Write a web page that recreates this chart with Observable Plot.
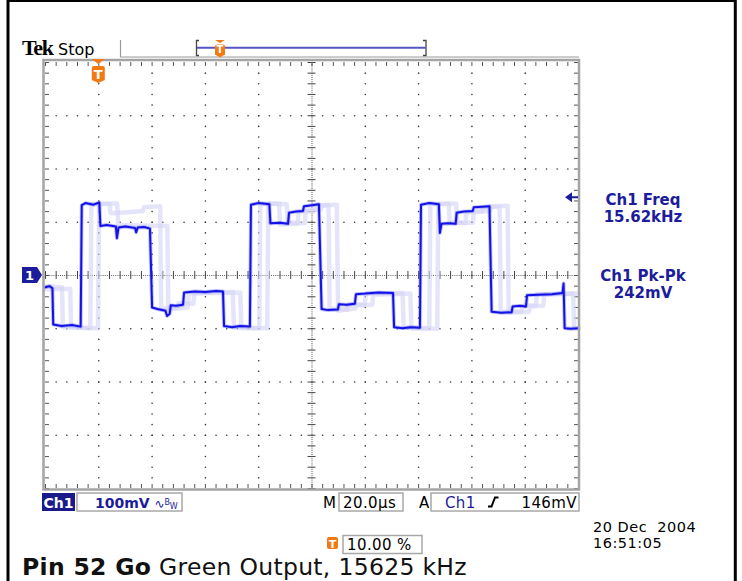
<!DOCTYPE html>
<html><head><meta charset="utf-8">
<script src="https://cdn.jsdelivr.net/npm/d3@7"></script>
<script src="https://cdn.jsdelivr.net/npm/@observablehq/plot@0.6"></script>
<style>body{margin:0;background:#fff}</style>
</head><body><div id="chart"></div>
<script>
// Time in µs (20 µs/div, 10 div), voltage in mV (100 mV/div, 8 div)
const mainTime = [0,1.5,2.6,2.9,6,10,13.2,13.6,15,18,20.2,20.6,23,26.4,26.8,27.4,30,33.6,34.0,34.6,37,39.2,40.0,42,45.0,45.6,46.6,47.0,49,51.6,52.0,56,60,64,66.6,67.0,70,73,76.7,77.1,80,84.0,84.4,88,91.0,91.4,94,96.6,97.0,100,102.6,103.6,106,109.7,110.1,113,116.1,116.5,120,125,130.4,130.8,134,137,140.5,140.9,144,147.6,148.0,148.6,151,153.9,154.3,157,160.3,160.7,164,166.6,167.4,171,174.9,175.3,178,180.3,180.7,185,190,194.0,194.4,194.8,197,200];
const mainMv = [-22,-20,-24,-92,-95,-93,-96,132,136,133,137,93,95,92,70,90,92,89,81,90,91,88,-60,-63,-66,-76,-72,-56,-57,-55,-32,-30,-31,-29,-30,-95,-97,-95,-96,133,136,134,98,99,97,118,120,121,130,132,134,-63,-65,-64,-54,-55,-53,-35,-34,-32,-33,-97,-99,-97,-98,133,136,134,80,97,98,97,118,120,121,128,129,130,-68,-70,-69,-58,-57,-58,-37,-36,-35,-33,-15,-99,-100,-99];

// faint persistence captures
const ghostATime = [0,9.3,9.6,19.7,20.1,26.9,27.3,45.7,46.1,53.4,53.8,73.1,73.5,83.2,83.6,90.5,90.9,97.3,97.7,103.3,103.7,109.3,109.8,116.3,116.7,122.6,123.0,136.9,137.3,147.0,147.4,154.1,154.5,160.4,160.8,166.8,167.2,173.4,173.8,181.4,181.8,186.8,187.2,200];
const ghostAMv = [-26,-25,-97,-99,134,135,95,93,-64,-60,-34,-32,-98,-99,135,134,100,98,122,124,132,133,-66,-62,-56,-55,-36,-34,-99,-100,134,135,99,99,120,121,130,131,-70,-68,-58,-57,-36,-34];
const ghostBTime = [0,6.2,6.5,16.8,17.2,24.0,24.4,31,36.5,36.9,43.0,43.4,49.5,49.9,55.5,55.9,70.3,70.7,80.2,80.6,87.6,88.0,94.6,95.0,100.3,100.7,106.2,106.6,113.2,113.6,119.8,120.2,134.0,134.4,144.0,144.4,151.3,151.7,157.6,158.0,163.8,164.2,170.4,170.8,178.6,179.0,184.0,184.4,198.0,198.4,200];
const ghostBMv = [-20,-22,-97,-99,134,135,117,119,121,128,130,-62,-60,-52,-53,-33,-31,-98,-99,134,135,96,97,120,121,131,132,-62,-64,-55,-54,-34,-33,-98,-99,134,135,100,98,118,120,128,129,-68,-68,-57,-56,-35,-34,-99,-99];

const triggerTime = 20;      // 10.00 %
const triggerLevel = 146;    // mV
const measureLabels = ["Ch1 Freq", "15.62kHz", "Ch1 Pk-Pk", "242mV"];
const dateLabels = ["20 Dec  2004", "16:51:05"];

const toData = (ts, vs) => ts.map((t, i) => ({t, v: vs[i]}));
const main = toData(mainTime, mainMv);
const ghostA = toData(ghostATime, ghostAMv);
const ghostB = toData(ghostBTime, ghostBMv);

const minorT = d3.range(0, 200.001, 4);
const majorT = d3.range(20, 200, 20);
const minorV = d3.range(-400, 400.001, 20);
const majorV = d3.range(-300, 300.001, 100);
const gridDots = [];
for (const t of majorT) if (t !== 100) for (const v of minorV) if (Math.abs(v) < 400) gridDots.push({t, v});
for (const v of majorV) if (v !== 0) for (const t of minorT) if (t > 0 && t < 200) gridDots.push({t, v});
const centerH = d3.range(0, 200.001, 0.8).map(t => ({t, v: 0}));
const centerV = d3.range(-400, 400.001, 4).map(v => ({t: 100, v}));

const svg = Plot.plot({
  width: 742, height: 581,
  marginLeft: 45, marginRight: 164, marginTop: 62, marginBottom: 93,
  x: {domain: [0, 200], axis: null},
  y: {domain: [-400, 400], axis: null},
  style: {background: "#fff", overflow: "visible"},
  marks: [
    Plot.dot(gridDots, {x: "t", y: "v", r: 0.8, fill: "#333", stroke: null}),
    Plot.dot(centerH, {x: "t", y: "v", r: 0.55, fill: "#444", stroke: null}),
    Plot.dot(centerV, {x: "t", y: "v", r: 0.55, fill: "#444", stroke: null}),
    Plot.ruleX(minorT, {x: d => d, y1: () => -7.5, y2: () => 7.5, stroke: "#444", strokeWidth: 1}),
    Plot.ruleY(minorV, {y: d => d, x1: () => 98.5, x2: () => 101.5, stroke: "#444", strokeWidth: 1}),
    Plot.ruleX(minorT, {x: d => d, y1: () => 400, y2: () => 392.5, stroke: "#555", strokeWidth: 1}),
    Plot.ruleX(minorT, {x: d => d, y1: () => -400, y2: () => -392.5, stroke: "#555", strokeWidth: 1}),
    Plot.ruleY(minorV, {y: d => d, x1: () => 0, x2: () => 1.5, stroke: "#555", strokeWidth: 1}),
    Plot.ruleY(minorV, {y: d => d, x1: () => 200, x2: () => 198.5, stroke: "#555", strokeWidth: 1}),
    Plot.line(ghostA, {x: "t", y: "v", stroke: "#d4d4f7", strokeWidth: 4.5, strokeOpacity: 0.6}),
    Plot.line(ghostB, {x: "t", y: "v", stroke: "#d4d4f7", strokeWidth: 4.5, strokeOpacity: 0.6}),
    Plot.line(main, {x: "t", y: "v", stroke: "#5a5af0", strokeWidth: 3.8, strokeOpacity: 0.4}),
    Plot.line(main, {x: "t", y: "v", stroke: "#1212e6", strokeWidth: 2})
  ]
});
document.getElementById("chart").appendChild(svg);

const xs = svg.scale("x"), ys = svg.scale("y");
const X = t => xs.apply(t), Y = v => ys.apply(v);
const g = d3.select(svg).append("g").attr("text-anchor", "start");
const SANS = "DejaVu Sans, sans-serif";
const NAVY = "#1c1c9c";
const ORANGE = "#f27a14";

// graticule frame
g.append("rect").attr("x", 43.5).attr("y", 60).attr("width", 535.5).attr("height", 429.5)
  .attr("fill", "none").attr("stroke", "#a4a4a4").attr("stroke-width", 2.5);
// outer black border
g.append("rect").attr("x", 8).attr("y", 0.5).attr("width", 727.3).attr("height", 600)
  .attr("fill", "none").attr("stroke", "#000").attr("stroke-width", 3);

// header
g.append("text").attr("x", 22).attr("y", 55).attr("font-family", "Liberation Serif, serif")
  .attr("font-weight", "bold").attr("font-size", 22).attr("letter-spacing", -1.3).attr("fill", "#000").text("Tek");
g.append("text").attr("x", 58).attr("y", 55).attr("font-family", SANS).attr("font-size", 16).attr("fill", "#000").text("Stop");
g.append("path").attr("d", "M120.5,40V57H579").attr("fill", "none").attr("stroke", "#999").attr("stroke-width", 1.2);
g.append("path").attr("d", "M199,40.5H196.5V55.5H199M423,40.5H426V55.5H423").attr("fill", "none").attr("stroke", "#444").attr("stroke-width", 1.3);
g.append("line").attr("x1", 197).attr("x2", 425.5).attr("y1", 47.8).attr("y2", 47.8).attr("stroke", "#5454c4").attr("stroke-width", 2);

function trigMark(cx, top, w, triH, gap, bodyH, fs) {
  const h = w / 2;
  g.append("path").attr("d", `M${cx - h},${top}H${cx + h}L${cx},${top + triH}Z`).attr("fill", ORANGE);
  const b = top + triH + gap;
  g.append("path").attr("d",
    `M${cx - h},${b + 2}Q${cx - h},${b} ${cx - h + 2},${b}H${cx + h - 2}Q${cx + h},${b} ${cx + h},${b + 2}V${b + bodyH}L${cx},${b + bodyH + 3}L${cx - h},${b + bodyH}Z`)
    .attr("fill", ORANGE);
  g.append("text").attr("x", cx).attr("y", b + bodyH - 1.5).attr("text-anchor", "middle")
    .attr("font-family", SANS).attr("font-weight", "bold").attr("font-size", fs).attr("fill", "#fff").text("T");
}
trigMark(X(triggerTime), 59, 13, 5, 2, 14, 13);
trigMark(220, 40, 10, 3, 1.5, 10, 10);

// channel 1 ground marker
const y0 = Y(0);
g.append("path").attr("d", `M22,${y0 - 8}H37L42,${y0}L37,${y0 + 8}H22Z`).attr("fill", NAVY);
g.append("text").attr("x", 29.5).attr("y", y0 + 5).attr("text-anchor", "middle").attr("font-family", SANS)
  .attr("font-weight", "bold").attr("font-size", 13).attr("fill", "#fff").text("1");

// trigger level arrow on the right
const yt = Y(triggerLevel);
g.append("path").attr("d", `M565,${yt}L572,${yt - 5}V${yt + 5}Z`).attr("fill", NAVY);
g.append("line").attr("x1", 571).attr("x2", 578).attr("y1", yt).attr("y2", yt).attr("stroke", NAVY).attr("stroke-width", 2);

// measurements
[[205, 0], [222, 1], [281, 2], [298, 3]].forEach(([y, i]) => {
  g.append("text").attr("x", 643).attr("y", y).attr("text-anchor", "middle").attr("font-family", SANS)
    .attr("font-weight", "bold").attr("font-size", 15).attr("fill", NAVY).text(measureLabels[i]);
});

// bottom status line
g.append("rect").attr("x", 42).attr("y", 493).attr("width", 33).attr("height", 18).attr("fill", "#1a1a8a");
g.append("text").attr("x", 58.5).attr("y", 507.5).attr("text-anchor", "middle").attr("font-family", SANS)
  .attr("font-weight", "bold").attr("font-size", 14).attr("fill", "#fff").text("Ch1");
const box = (x, y, w, h) => g.append("rect").attr("x", x).attr("y", y).attr("width", w).attr("height", h)
  .attr("fill", "none").attr("stroke", "#a8a8a8").attr("stroke-width", 1.5);
box(77, 493, 105, 18);
const t100 = g.append("text").attr("x", 95).attr("y", 507.5).attr("font-family", SANS).attr("font-weight", "bold")
  .attr("font-size", 14).attr("fill", NAVY);
t100.append("tspan").text("100mV ");
t100.append("tspan").attr("font-size", 12).attr("font-weight", "normal").text("∿");
t100.append("tspan").attr("font-size", 8).attr("dy", -3).attr("font-weight", "normal").text("B");
t100.append("tspan").attr("font-size", 8).attr("dy", 4).attr("font-weight", "normal").text("W");

g.append("text").attr("x", 323).attr("y", 507.5).attr("font-family", SANS).attr("font-size", 15).attr("fill", "#000").text("M");
box(339, 493, 64, 18);
g.append("text").attr("x", 343).attr("y", 507.5).attr("font-family", SANS).attr("font-size", 15)
  .attr("letter-spacing", 0.4).attr("fill", "#000").text("20.0µs");
g.append("text").attr("x", 419).attr("y", 507.5).attr("font-family", SANS).attr("font-size", 15).attr("fill", "#000").text("A");
box(431, 493, 148, 18);
g.append("text").attr("x", 445).attr("y", 507.5).attr("font-family", SANS).attr("font-size", 15)
  .attr("letter-spacing", 0.4).attr("fill", NAVY).text("Ch1");
g.append("path").attr("d", "M488,506.5H491.5L495,497.5H498.5").attr("fill", "none").attr("stroke", "#000").attr("stroke-width", 2);
g.append("text").attr("x", 577).attr("y", 507.5).attr("text-anchor", "end").attr("font-family", SANS).attr("font-size", 15)
  .attr("letter-spacing", 0.4).attr("fill", "#000").text("146mV");

// trigger position
g.append("rect").attr("x", 327).attr("y", 537).attr("width", 11).attr("height", 12).attr("rx", 2).attr("fill", ORANGE);
g.append("text").attr("x", 332.5).attr("y", 547.5).attr("text-anchor", "middle").attr("font-family", SANS)
  .attr("font-weight", "bold").attr("font-size", 11).attr("fill", "#fff").text("T");
box(343, 535.5, 79, 18);
g.append("text").attr("x", 347).attr("y", 549.5).attr("font-family", SANS).attr("font-size", 15)
  .attr("letter-spacing", 0.4).attr("fill", "#000").text("10.00 %");

// date / time
g.append("text").attr("x", 593).attr("y", 531.5).attr("font-family", SANS).attr("font-size", 14.5)
  .attr("letter-spacing", 0.5).attr("fill", "#000").style("white-space", "pre").text(dateLabels[0]);
g.append("text").attr("x", 593).attr("y", 548).attr("font-family", SANS).attr("font-size", 14.5)
  .attr("letter-spacing", 0.5).attr("fill", "#000").text(dateLabels[1]);

// caption
const cap = g.append("text").attr("x", 22).attr("y", 574.5).attr("font-family", SANS).attr("font-size", 23.5)
  .attr("letter-spacing", 0.3).attr("fill", "#111");
cap.append("tspan").attr("font-weight", "bold").text("Pin 52 Go");
cap.append("tspan").text(" Green Output, 15625 kHz");
</script></body></html>
